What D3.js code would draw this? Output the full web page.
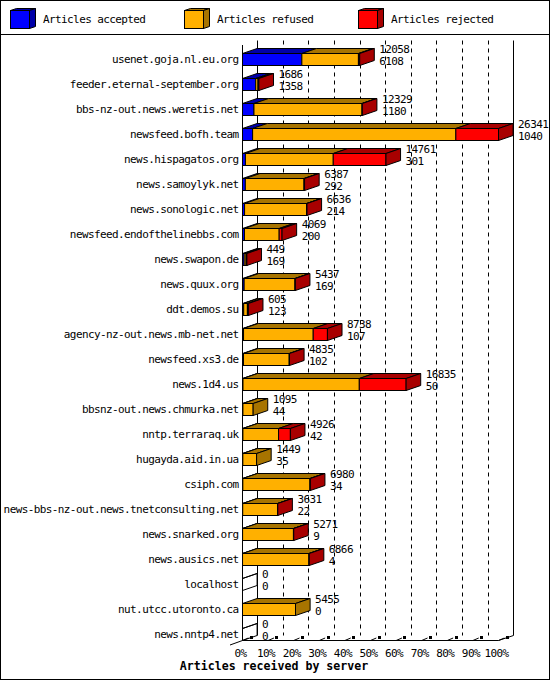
<!DOCTYPE html>
<html>
<head>
<meta charset="utf-8">
<script src="https://cdn.jsdelivr.net/npm/d3@7"></script>
<style>
  body { margin: 0; background: #fff; }
  svg text { font-family: "DejaVu Sans Mono", monospace; font-size: 11px; letter-spacing: -0.6px; fill: #000; }
  svg text.title { font-weight: bold; font-size: 11.6px; letter-spacing: 0; }
</style>
</head>
<body>
<div id="chart"></div>
<script>
// data
const servers = [
  "usenet.goja.nl.eu.org", "feeder.eternal-september.org", "bbs-nz-out.news.weretis.net",
  "newsfeed.bofh.team", "news.hispagatos.org", "news.samoylyk.net", "news.sonologic.net",
  "newsfeed.endofthelinebbs.com", "news.swapon.de", "news.quux.org", "ddt.demos.su",
  "agency-nz-out.news.mb-net.net", "newsfeed.xs3.de", "news.1d4.us", "bbsnz-out.news.chmurka.net",
  "nntp.terraraq.uk", "hugayda.aid.in.ua", "csiph.com", "news-bbs-nz-out.news.tnetconsulting.net",
  "news.snarked.org", "news.ausics.net", "localhost", "nut.utcc.utoronto.ca", "news.nntp4.net"
];
const totals   = [12058, 1686, 12329, 26341, 14761, 6387, 6636, 4069, 449, 5437, 605, 8738, 4835, 16835, 1095, 4926, 1449, 6980, 3631, 5271, 6866, 0, 5455, 0];
const accepted = [6108, 1358, 1180, 1040, 301, 292, 214, 200, 169, 169, 123, 107, 102, 50, 44, 42, 35, 34, 22, 9, 4, 0, 0, 0];
const refused  = [5820, 237, 11119, 20912, 9036, 6035, 6382, 3572, 200, 5228, 380, 7169, 4703, 11967, 1051, 3668, 1414, 6906, 3579, 5232, 6832, 0, 5455, 0];
const rejected = [130, 91, 30, 4389, 5424, 60, 40, 297, 80, 40, 102, 1462, 30, 4818, 0, 1216, 0, 40, 30, 30, 30, 0, 0, 0];

const seriesNames  = ["Articles accepted", "Articles refused", "Articles rejected"];
const seriesColors = ["#0000ff", "#ffb000", "#ff0000"];
const seriesDark   = ["#0000a8", "#a87400", "#a80000"];
const pctTicks = [0, 10, 20, 30, 40, 50, 60, 70, 80, 90, 100];

document.addEventListener("DOMContentLoaded", () => {
    const W = 550, H = 680;
    const dx = 14.6, dy = 5;          // 3d depth offset
    const backTop = 40.5, floorFront = 640.5, floorBack = 635.5;

    const svg = d3.select("#chart").append("svg")
                  .attr("width", W)
                  .attr("height", H);

    svg.append("rect")
       .attr("x", 0.5).attr("y", 0.5)
       .attr("width", W - 1).attr("height", H - 1)
       .attr("fill", "#fff").attr("stroke", "#000");

    // ----------------------
    // legend
    // ----------------------
    svg.append("line")
       .attr("x1", 0).attr("x2", W)
       .attr("y1", 34.5).attr("y2", 34.5)
       .attr("stroke", "#000");

    const legendX = [10.5, 184.5, 358.5];
    seriesNames.forEach((name, i) => {
        const g = svg.append("g").attr("transform", `translate(${legendX[i]},10.5)`);
        g.append("polygon")
         .attr("points", "0,0 6,-2 25,-2 19,0")
         .attr("fill", seriesDark[i]).attr("stroke", "#000");
        g.append("polygon")
         .attr("points", "19,0 25,-2 25,16 19,18")
         .attr("fill", seriesDark[i]).attr("stroke", "#000");
        g.append("rect")
         .attr("width", 19).attr("height", 18)
         .attr("fill", seriesColors[i]).attr("stroke", "#000");
        g.append("text")
         .attr("x", 32.5).attr("y", 12.5)
         .text(name);
    });

    // ----------------------
    // scales
    // ----------------------
    const x = d3.scaleLinear().domain([0, d3.max(totals)]).range([242.5, 498.5]);
    const xPct = d3.scaleLinear().domain([0, 100]).range([242.5, 498.5]);
    const y = d3.scaleBand().domain(servers).range([41, 641]);
    const frontTop = s => y(s) + 12.5;
    const barH = 12;

    // back wall grid
    pctTicks.forEach(p => {
        const bx = Math.round(xPct(p) + dx) + 0.5;
        svg.append("line")
           .attr("x1", bx).attr("x2", bx)
           .attr("y1", backTop).attr("y2", floorBack)
           .attr("stroke", "#000")
           .attr("stroke-dasharray", (p === 0 || p === 100) ? null : "4,4");
    });

    // front axis line and floor
    svg.append("line")
       .attr("x1", 242.5).attr("x2", 242.5)
       .attr("y1", 45).attr("y2", floorFront)
       .attr("stroke", "#000");
    svg.append("path")
       .attr("d", `M230,645L${xPct(0)},${floorFront}H${xPct(100)}L${Math.round(xPct(100) + dx) + 0.5},${floorBack}`)
       .attr("fill", "none").attr("stroke", "#000");

    // floor ticks
    pctTicks.forEach(p => {
        const fx = xPct(p);
        svg.append("line")
           .attr("x1", fx).attr("y1", floorFront)
           .attr("x2", fx + dx * 0.4).attr("y2", floorFront - dy * 0.5)
           .attr("stroke", "#000");
        svg.append("rect")
           .attr("x", Math.round(fx + dx * 0.5)).attr("y", floorFront - 4.5)
           .attr("width", 3).attr("height", 3)
           .attr("fill", "#000");
        svg.append("text")
           .attr("x", fx - 2)
           .attr("y", 657)
           .attr("text-anchor", "middle")
           .text(p + "%");
    });

    // ----------------------
    // bars
    // ----------------------
    servers.forEach((s, i) => {
        const vals = [accepted[i], refused[i], rejected[i]];
        const t = frontTop(s), b = t + barH;
        const g = svg.append("g");
        let start = 0, lastIdx = -1;
        vals.forEach((v, k) => {
            if (v <= 0) return;
            const x0 = x(start), x1 = x(start + v);
            g.append("polygon")
             .attr("points", `${x0},${t} ${x0 + dx},${t - dy} ${x1 + dx},${t - dy} ${x1},${t}`)
             .attr("fill", seriesDark[k]).attr("stroke", "#000");
            g.append("rect")
             .attr("x", x0).attr("y", t)
             .attr("width", x1 - x0).attr("height", barH)
             .attr("fill", seriesColors[k]).attr("stroke", "#000");
            start += v;
            lastIdx = k;
        });
        const xe = x(start);
        g.append("polygon")
         .attr("points", `${xe},${t} ${xe + dx},${t - dy} ${xe + dx},${b - dy} ${xe},${b}`)
         .attr("fill", lastIdx >= 0 ? seriesDark[lastIdx] : "none")
         .attr("stroke", "#000");
        if (lastIdx < 0) {
            g.append("polyline")
             .attr("points", `${xe},${t} ${xe + dx},${t - dy}`)
             .attr("fill", "none").attr("stroke", "#000");
        }

        // value labels
        const lx = x(totals[i]) + dx + 5;
        g.append("text").attr("x", lx).attr("y", t - 0.5).text(totals[i]);
        g.append("text").attr("x", lx).attr("y", t + 11.5).text(accepted[i]);

        // server name
        svg.append("text")
           .attr("x", 238.5)
           .attr("y", t + 9.5)
           .attr("text-anchor", "end")
           .text(s);
    });

    svg.append("text")
       .attr("class", "title")
       .attr("x", 274)
       .attr("y", 670)
       .attr("text-anchor", "middle")
       .text("Articles received by server");
});
</script>
</body>
</html>
